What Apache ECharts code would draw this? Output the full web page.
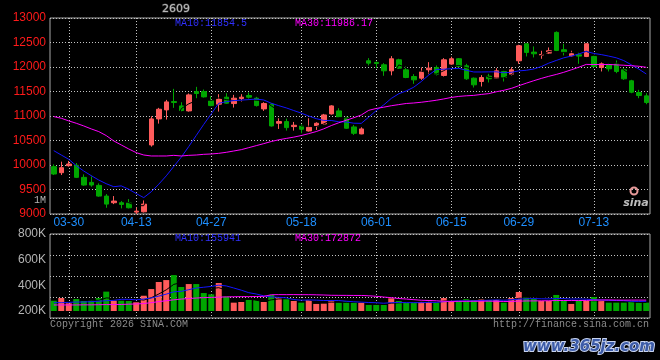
<!DOCTYPE html>
<html>
<head>
<meta charset="utf-8">
<script src="https://cdn.jsdelivr.net/npm/echarts@6/dist/echarts.min.js"></script>
<style>
html, body { margin: 0; padding: 0; background: #000; }
#chart { width: 660px; height: 360px; }
</style>
</head>
<body>
<div id="chart"></div>
<script>
// trading days shown on the chart
var DATES = ['03-26','03-27','03-30','03-31','04-01','04-02','04-03','04-07','04-08','04-09','04-10',
    '04-13','04-14','04-15','04-16','04-17','04-20','04-21','04-22','04-23','04-24',
    '04-27','04-28','04-29','04-30','05-06','05-07','05-08','05-11','05-12','05-13','05-14','05-15',
    '05-18','05-19','05-20','05-21','05-22','05-25','05-26','05-27','05-28','05-29',
    '06-01','06-02','06-03','06-04','06-05','06-08','06-09','06-10','06-11','06-12',
    '06-15','06-16','06-17','06-18','06-22','06-23','06-24','06-25','06-26',
    '06-29','06-30','07-01','07-02','07-03','07-06','07-07','07-08','07-09','07-10',
    '07-13','07-14','07-15','07-16','07-17','07-20','07-21','07-22'];
var LABEL_DATES = ['03-30','04-13','04-27','05-18','06-01','06-15','06-29','07-13'];

var OPEN = [9966, 9843, 9986, 9993, 9748, 9645, 9584, 9366, 9230, 9230,
    9223, 9039, 9045, 10409, 10941, 11125, 11295, 11206, 11104, 11500,
    11500, 11309, 11241, 11384, 11254, 11356, 11418, 11363, 11145, 11241,
    10852, 10886, 10784, 10797, 10695, 10797, 10838, 11043, 11104, 10968,
    10777, 10634, 12127, 12093, 12045, 11922, 12147, 11943, 11806, 11772,
    11943, 11990, 11827, 12059, 12168, 12024, 11772, 11704, 11813, 11772,
    11909, 11854, 12127, 12474, 12304, 12243, 12284, 12706, 12352, 12229,
    12249, 12215, 12215, 11990, 12045, 12059, 11943, 11718, 11479, 11411];
var CLOSE = [9816, 9945, 10020, 9748, 9591, 9591, 9366, 9202, 9264, 9195,
    9127, 9059, 9202, 10941, 11138, 11288, 11275, 11111, 11431, 11459,
    11390, 11213, 11350, 11261, 11363, 11384, 11384, 11213, 11254, 10797,
    10886, 10763, 10811, 10729, 10770, 10852, 11022, 11206, 10981, 10750,
    10647, 10736, 12079, 12072, 11922, 12168, 11977, 11786, 11738, 11909,
    11977, 11854, 12147, 12168, 12011, 11759, 11636, 11786, 11759, 11922,
    11786, 11943, 12433, 12297, 12270, 12256, 12331, 12338, 12297, 12270,
    12222, 12474, 12011, 12065, 11963, 11909, 11759, 11486, 11418, 11275];
var LOW = [9795, 9795, 9966, 9734, 9577, 9557, 9352, 9127, 9202, 9114,
    9114, 9000, 9032, 10375, 10845, 10927, 11166, 11097, 11090, 11363,
    11377, 11200, 11090, 11247, 11172, 11295, 11329, 11193, 11104, 10784,
    10736, 10702, 10702, 10648, 10682, 10716, 10818, 11029, 10968, 10736,
    10613, 10627, 12031, 11977, 11820, 11827, 11963, 11772, 11656, 11738,
    11854, 11827, 11806, 12045, 11990, 11738, 11581, 11602, 11684, 11759,
    11704, 11827, 12065, 12215, 12195, 12168, 12270, 12324, 12236, 12215,
    12065, 12202, 11990, 11909, 11909, 11874, 11738, 11465, 11363, 11240];
var HIGH = [10013, 10068, 10082, 10040, 9809, 9789, 9625, 9407, 9366, 9264,
    9304, 9134, 9277, 10995, 11166, 11329, 11554, 11281, 11459, 11595,
    11541, 11404, 11445, 11466, 11432, 11445, 11479, 11390, 11281, 11261,
    10954, 10947, 10879, 10831, 10954, 10872, 11043, 11220, 11159, 10988,
    10818, 10770, 12181, 12113, 12079, 12222, 12168, 12011, 11854, 11990,
    12099, 12031, 12181, 12209, 12181, 12065, 11786, 11834, 11861, 11977,
    11922, 11997, 12454, 12488, 12420, 12331, 12399, 12727, 12474, 12331,
    12304, 12488, 12229, 12093, 12065, 12133, 11977, 11738, 11534, 11466];
var VOLUME = [280000, 301000, 260000, 293000, 278000, 286000, 301000, 351000, 280000, 280000,
    278000, 268000, 319000, 371000, 426000, 441000, 480000, 387000, 410000, 410000,
    340000, 330000, 418000, 312000, 265000, 270000, 286000, 283000, 270000, 325000,
    306000, 293000, 278000, 265000, 286000, 255000, 257000, 283000, 265000, 273000,
    265000, 265000, 247000, 247000, 247000, 299000, 278000, 265000, 265000, 273000,
    286000, 265000, 301000, 278000, 278000, 293000, 286000, 293000, 286000, 293000,
    265000, 301000, 348000, 309000, 293000, 278000, 278000, 325000, 278000, 255000,
    278000, 278000, 309000, 286000, 265000, 265000, 265000, 278000, 265000, 265000];

// moving average values before enough days are on screen
var MA10_HEAD = [10293, 10204, 10116, 9986, 9877, 9782, 9693, 9618, 9557];
var MA30_HEAD = [10988, 10954, 10900, 10852, 10797, 10736, 10682, 10600, 10491, 10409,
    10327, 10252, 10204, 10184, 10184, 10184, 10197, 10184, 10197, 10204,
    10218, 10225, 10238, 10259, 10286, 10313, 10354, 10395, 10436];
var VOL_MA10_HEAD = [265000, 265000, 267000, 270000, 270000, 273000, 276000, 280000, 283000];
var VOL_MA30_HEAD = [247000, 247000, 247000, 247000, 248000, 248000, 249000, 250000, 250000, 251000,
    253000, 255000, 258000, 265000, 273000, 280000, 287000, 293000, 297000, 301000,
    304000, 306000, 308000, 310000, 311000, 312000, 312000, 313000, 314000];

var PRICE_TICKS = [9000, 13000, 500];
var VOL_TICKS = [200000, 800000, 200000];

var RED = '#ff5b5b';
var GREEN = '#00a600';
var GRID_LINE = {color: '#c4c4c4', type: [1, 2], width: 1};
var MONO = '10px "Liberation Mono"';

//均线
function movingAvg(values, n, head){
    var out = [];
    for(var i = 0; i < values.length; i++){
        if(i < n - 1){
            out.push(head && head[i] != null ? head[i] : null);
            continue;
        }
        var sum = 0;
        for(var k = i - n + 1; k <= i; k++)
            sum += values[k];
        out.push(+(sum / n).toFixed(1));
    }
    return out;
}

function isLabelDay(idx){
    return LABEL_DATES.indexOf(DATES[idx]) >= 0;
}

var candleData = DATES.map(function(d, i){
    return [OPEN[i], CLOSE[i], LOW[i], HIGH[i]];
});
var volumeData = VOLUME.map(function(v, i){
    return {value: v, itemStyle: {color: CLOSE[i] >= OPEN[i] ? RED : GREEN}};
});

function maLine(name, data, color, xi, yi){
    return {
        type: 'line', name: name, data: data,
        xAxisIndex: xi, yAxisIndex: yi,
        symbol: 'none', silent: true,
        lineStyle: {color: color, width: 1},
        itemStyle: {color: color}
    };
}

function text(str, x, y, color, align, font){
    return {
        type: 'text', silent: true, x: x, y: y, z: 100,
        style: {text: str, fill: color, font: font || MONO,
            textAlign: align || 'left', textVerticalAlign: 'middle', verticalAlign: 'middle'}
    };
}

var chart = echarts.init(document.getElementById('chart'), null, {renderer: 'canvas'});
var option = {
    backgroundColor: '#000',
    animation: false,
    grid: [
        {left: 50, right: 10, top: 18, height: 196, show: true, borderColor: '#a8a8a8', borderWidth: 1, outerBoundsMode: 'none'},
        {left: 50, right: 10, top: 234, height: 77, show: false, outerBoundsMode: 'none'},
        {left: 50, right: 10, top: 234, height: 84, show: true, borderColor: '#a8a8a8', borderWidth: 1, outerBoundsMode: 'none'}
    ],
    xAxis: [
        {
            type: 'category', gridIndex: 0, data: DATES, boundaryGap: true,
            axisLine: {show: false}, axisTick: {show: false},
            axisLabel: {interval: function(i){ return isLabelDay(i); }, color: '#1e8fff', font: MONO, margin: 3},
            splitLine: {show: true, interval: function(i){ return isLabelDay(i); }, alignWithLabel: true, lineStyle: GRID_LINE}
        },
        {
            type: 'category', gridIndex: 1, data: DATES, boundaryGap: true,
            axisLine: {show: false}, axisTick: {show: false}, axisLabel: {show: false}, splitLine: {show: false}
        },
        {
            type: 'category', gridIndex: 2, data: DATES, boundaryGap: true,
            axisLine: {show: false},
            axisTick: {show: true, interval: function(i){ return isLabelDay(i); }, alignWithLabel: true,
                length: 5, lineStyle: GRID_LINE},
            axisLabel: {show: false},
            splitLine: {show: true, interval: function(i){ return isLabelDay(i); }, alignWithLabel: true, lineStyle: GRID_LINE}
        }
    ],
    yAxis: [
        {
            type: 'value', gridIndex: 0, min: PRICE_TICKS[0], max: PRICE_TICKS[1], interval: PRICE_TICKS[2],
            axisLine: {show: false}, axisTick: {show: false},
            axisLabel: {color: '#ff1a1a', font: MONO, margin: 4, padding: [0, 0, 3, 0],
                formatter: function(v){ return String(v); }},
            splitLine: {show: true, lineStyle: GRID_LINE}
        },
        {
            type: 'value', gridIndex: 1, min: VOL_TICKS[0], max: VOL_TICKS[1], interval: VOL_TICKS[2],
            axisLine: {show: false}, axisTick: {show: false},
            axisLabel: {color: '#b4b4b4', font: MONO, margin: 4,
                formatter: function(v){ return (v / 1000) + 'K'; }},
            splitLine: {show: false}
        },
        {
            type: 'value', gridIndex: 2, inverse: true, min: 0, max: 84, interval: 21,
            axisLine: {show: false}, axisTick: {show: false}, axisLabel: {show: false},
            splitLine: {show: true, lineStyle: GRID_LINE}
        }
    ],
    series: [
        {
            type: 'candlestick', name: 'K', data: candleData,
            xAxisIndex: 0, yAxisIndex: 0, barWidth: 5, silent: true,
            itemStyle: {color: RED, color0: GREEN, borderColor: RED, borderColor0: GREEN, borderWidth: 1}
        },
        maLine('MA5', movingAvg(CLOSE, 5), '#000000', 0, 0),
        maLine('MA10', movingAvg(CLOSE, 10, MA10_HEAD), '#1414ff', 0, 0),
        maLine('MA30', movingAvg(CLOSE, 30, MA30_HEAD), '#ff00ff', 0, 0),
        {
            type: 'bar', name: 'VOL', data: volumeData,
            xAxisIndex: 1, yAxisIndex: 1, barWidth: 6, silent: true
        },
        maLine('VMA5', movingAvg(VOLUME, 5), '#000000', 1, 1),
        maLine('VMA10', movingAvg(VOLUME, 10, VOL_MA10_HEAD), '#1414ff', 1, 1),
        maLine('VMA30', movingAvg(VOLUME, 30, VOL_MA30_HEAD), '#ff00ff', 1, 1)
    ],
    graphic: [
        {
            type: 'text', silent: true, x: 176, y: 9, z: 100,
            style: {text: '2609', fill: '#b8b8b8', font: '11px "DejaVu Sans"', textAlign: 'center',
                textVerticalAlign: 'middle', verticalAlign: 'middle', stroke: '#4a4a4a', lineWidth: 1}
        },
        text('MA10:11854.5', 175, 23, '#3030ff'),
        text('MA30:11986.17', 295, 23, '#ff00ff'),
        text('1M', 46, 200, '#b4b4b4', 'right'),
        text('MA10:155941', 175, 238, '#3030ff'),
        text('MA30:172872', 295, 238, '#ff00ff'),
        text('Copyright 2026 SINA.COM', 50, 324, '#8c8c8c'),
        text('http://finance.sina.com.cn', 649, 324, '#8c8c8c', 'right'),
        {
            type: 'circle', silent: true, z: 100, shape: {cx: 634, cy: 191, r: 3.5},
            style: {fill: 'none', stroke: '#e89a9a', lineWidth: 2}
        },
        {
            type: 'text', silent: true, x: 636, y: 203, z: 100,
            style: {text: 'sina', fill: '#bdbdbd', font: 'italic bold 11px "DejaVu Sans"', textAlign: 'center',
                textVerticalAlign: 'middle', verticalAlign: 'middle'}
        },
        {
            type: 'text', silent: true, x: 655, y: 347, z: 100,
            style: {text: 'www.365jz.com', fill: '#3d5ca8', font: 'italic bold 15px "DejaVu Sans"', textAlign: 'right',
                textVerticalAlign: 'middle', verticalAlign: 'middle', stroke: '#c8d4f0', lineWidth: 2}
        }
    ]
};
chart.setOption(option);
</script>
</body>
</html>
